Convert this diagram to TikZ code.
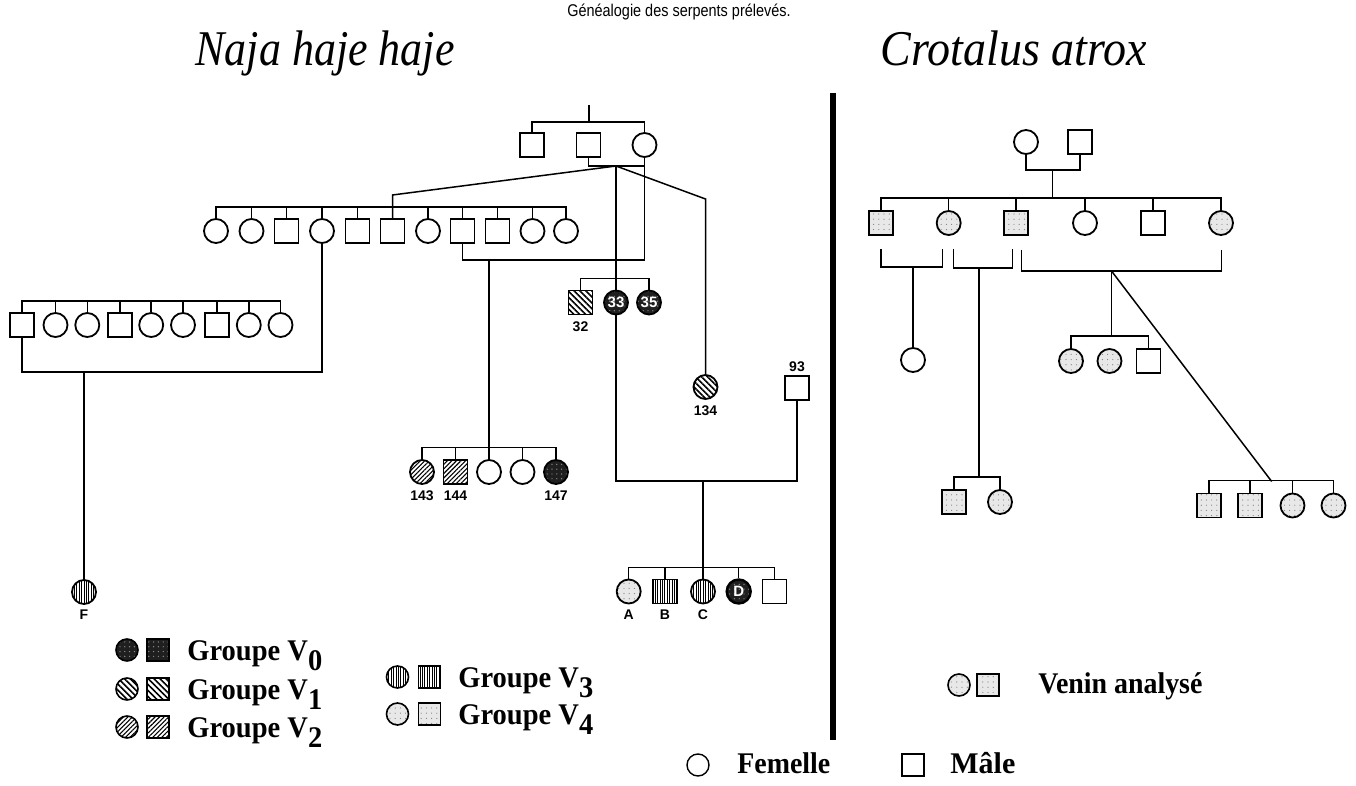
\documentclass[tikz,border=0pt]{standalone}
\usepackage{fontspec}
\setmainfont{Liberation Serif}
\setsansfont{Liberation Sans}
\usetikzlibrary{patterns.meta}
\tikzset{
  ln/.style={line width=0.75pt},
  sym/.style={draw, line width=0.9pt, inner sep=0pt, minimum size=12pt},
  fem/.style={sym, circle},
  mal/.style={sym, rectangle},
  lsym/.style={line width=0.8pt, minimum size=11pt},
  vz/.style={preaction={fill=black!88}, pattern={Dots[distance=2.4pt,radius=0.35pt]}, pattern color=black!45},
  vi/.style={pattern={Lines[angle=-45,distance=2.1pt,line width=0.8pt]}},
  vii/.style={pattern={Lines[angle=45,distance=1.6pt,line width=0.55pt]}},
  viii/.style={pattern={Lines[angle=90,distance=1.2pt,line width=0.45pt]}},
  viv/.style={preaction={fill=black!9}, pattern={Dots[distance=2.6pt,radius=0.3pt]}, pattern color=black!50},
  lab/.style={font=\sffamily\bfseries\fontsize{7}{7}\selectfont, inner sep=0pt},
  inlab/.style={text=white, font=\sffamily\bfseries\fontsize{7.5}{7.5}\selectfont},
  leg/.style={font=\bfseries\fontsize{15}{15}\selectfont, anchor=base west, inner sep=0pt},
  ttl/.style={font=\itshape\fontsize{25}{25}\selectfont, anchor=base, inner sep=0pt},
}
\newcommand{\grp}[1]{\scalebox{0.95}[1]{Groupe V\raisebox{-5pt}{#1}}}
\begin{document}
\begin{tikzpicture}[x=0.5pt,y=-0.5pt]
\useasboundingbox (0,0) rectangle (1356,786);
% titles
\node[font=\sffamily\fontsize{8.5}{9}\selectfont, inner sep=0pt] (sub) at (679,12) {\scalebox{0.85}[1]{Généalogie des serpents prélevés.}};
\node[ttl] (t1) at (325,66) {\scalebox{0.88}[1]{Naja haje haje}};
\node[ttl] (t2) at (1014,66) {\scalebox{0.92}[1]{Crotalus atrox}};
\draw[line width=3pt] (833,93) -- (833,740);

% ===== Naja haje haje =====
\node[mal] (g1) at (532,145) {};
\node[mal] (g2) at (588.5,145) {};
\node[fem] (g3) at (644.5,145) {};
\coordinate (gtop) at (589,105);
\draw[ln] (gtop) -- (589,122);
\draw[ln] (g1.north) |- (589,122) -| (g3.north);
\coordinate (m1) at (616,166);
\draw[ln] (g2.south) |- (m1) -| (g3.south);

% row 2
\foreach \x/\t [count=\i] in {216/fem,251.5/fem,286.5/mal,322/fem,357.5/mal,392.5/mal,428/fem,462.5/mal,497.5/mal,532.5/fem,566/fem}
  \node[\t] (b\i) at (\x,231) {};
\draw[ln] (b1.north) -- ++(0,-11) -| (b11.north);
\foreach \i in {2,...,10} \draw[ln] (b\i.north) -- ++(0,-11);
\draw[ln] (m1) -- (392.5,195) -- (b6.north);

% row 3
\foreach \x/\t [count=\i] in {21.8/mal,55.5/fem,87.3/fem,119.8/mal,151.2/fem,183/fem,217/mal,248.8/fem,280.5/fem}
  \node[\t] (u\i) at (\x,325) {};
\draw[ln] (u1.north) -- ++(0,-11) -| (u9.north);
\foreach \i in {2,...,8} \draw[ln] (u\i.north) -- ++(0,-11);
\coordinate (m3) at (84,372);
\draw[ln] (b4.south) |- (m3) -| (u1.south);
\node[fem,viii] (F) at (84,592) {};
\node[lab] (lF) at (84,615) {F};
\draw[ln] (m3) -- (F.north);

% 32 33 35
\node[mal,vi] (n32) at (580.5,302.5) {};
\node[fem,vz,inlab] (n33) at (616,302.5) {33};
\node[fem,vz,inlab] (n35) at (649,302.5) {35};
\draw[ln] (n32.north) -- ++(0,-11) -| (n35.north);
\draw[ln] (m1) -- (n33.north);
\node[lab] (l32) at (580.5,327) {32};

% grandmother x b8
\coordinate (m2) at (489,260);
\draw[ln] (g3.south) |- (m2) -| (b8.south);
\node[fem,vii] (k1) at (422,472) {};
\node[mal,vii] (k2) at (455.5,472) {};
\node[fem] (k3) at (489,472) {};
\node[fem] (k4) at (522.5,472) {};
\node[fem,vz] (k5) at (556,472) {};
\draw[ln] (k1.north) -- ++(0,-12) -| (k5.north);
\draw[ln] (k2.north) -- ++(0,-12);
\draw[ln] (k4.north) -- ++(0,-12);
\draw[ln] (m2) -- (k3.north);
\node[lab] (l143) at (422,496) {143};
\node[lab] (l144) at (455.5,496) {144};
\node[lab] (l147) at (556,496) {147};

% 134
\node[fem,vi] (n134) at (705.5,387) {};
\draw[ln] (m1) -- (705.5,199) -- (n134.north);
\node[lab] (l134) at (705.5,411) {134};

% 93
\node[mal] (s93) at (797,388) {};
\node[lab] (l93) at (797,367) {93};
\coordinate (m4) at (703,481);
\draw[ln] (n33.south) |- (m4) -| (s93.south);
\node[fem,viv] (d1) at (628.7,591.5) {};
\node[mal,viii] (d2) at (665,591.5) {};
\node[fem,viii] (d3) at (703,591.5) {};
\node[fem,vz,inlab,line width=1.2pt] (d4) at (738.7,591.5) {D};
\node[mal] (d5) at (774.5,591.5) {};
\draw[ln] (d1.north) -- ++(0,-11) -| (d5.north);
\draw[ln] (d2.north) -- ++(0,-11);
\draw[ln] (d4.north) -- ++(0,-11);
\draw[ln] (m4) -- (d3.north);
\node[lab] (lA) at (628.7,615) {A};
\node[lab] (lB) at (665,615) {B};
\node[lab] (lC) at (703,615) {C};

% Naja legend
\node[fem,lsym,vz] (L0a) at (127,650) {};
\node[mal,lsym,vz] (L0b) at (158,650) {};
\node[leg] (L0t) at (187,660) {\grp{0}};
\node[fem,lsym,vi] (L1a) at (127,689) {};
\node[mal,lsym,vi] (L1b) at (158,689) {};
\node[leg] (L1t) at (187,699) {\grp{1}};
\node[fem,lsym,vii] (L2a) at (127,727) {};
\node[mal,lsym,vii] (L2b) at (158,727) {};
\node[leg] (L2t) at (187,737) {\grp{2}};
\node[fem,lsym,viii] (L3a) at (397.5,677) {};
\node[mal,lsym,viii] (L3b) at (429.5,677) {};
\node[leg] (L3t) at (458,687) {\grp{3}};
\node[fem,lsym,viv] (L4a) at (397.5,714) {};
\node[mal,lsym,viv] (L4b) at (429.5,714) {};
\node[leg] (L4t) at (458,724) {\grp{4}};

% ===== Crotalus atrox =====
\node[fem] (p1) at (1026,142) {};
\node[mal] (p2) at (1080,142) {};
\coordinate (m5) at (1052.7,170);
\draw[ln] (p1.south) |- (m5) -| (p2.south);
\foreach \x/\t/\f [count=\i] in {880.8/mal/viv,948.7/fem/viv,1016/mal/viv,1085/fem/,1153/mal/,1221/fem/viv}
  \node[\t,\f] (q\i) at (\x,223) {};
\draw[ln] (q1.north) -- ++(0,-12) -| (q6.north);
\foreach \i in {2,...,5} \draw[ln] (q\i.north) -- ++(0,-12);
\draw[ln] (m5) -- (1052.7,199);

% brackets under row
\coordinate (ba1) at (880.8,249);
\coordinate (ba2) at (942.7,249);
\coordinate (bam) at (913,267);
\draw[ln] (ba1) |- (bam) -| (ba2);
\coordinate (bb1) at (953.3,249);
\coordinate (bb2) at (1012.7,249);
\coordinate (bbm) at (979,268);
\draw[ln] (bb1) |- (bbm) -| (bb2);
\coordinate (bc1) at (1021.7,250);
\coordinate (bc2) at (1221.5,250);
\coordinate (bcm) at (1111.5,271);
\draw[ln] (bc1) |- (bcm) -| (bc2);

\node[fem] (r1) at (913,360) {};
\draw[ln] (bam) -- (r1.north);

\node[mal,viv] (r21) at (954,502) {};
\node[fem,viv] (r22) at (1000,502) {};
\draw[ln] (r21.north) -- ++(0,-12) -| (r22.north);
\draw[ln] (bbm) -- (979,478);

\node[fem,viv] (r31) at (1071,361) {};
\node[fem,viv] (r32) at (1109.5,361) {};
\node[mal] (r33) at (1148.5,361) {};
\draw[ln] (r31.north) -- ++(0,-12) -| (r33.north);
\draw[ln] (bcm) -- (1111.5,337);

\node[mal,viv] (r41) at (1209,505.5) {};
\node[mal,viv] (r42) at (1250,505.5) {};
\node[fem,viv] (r43) at (1292.5,505.5) {};
\node[fem,viv] (r44) at (1333.5,505.5) {};
\draw[ln] (r41.north) -- ++(0,-12) -| (r44.north);
\draw[ln] (r42.north) -- ++(0,-12);
\draw[ln] (r43.north) -- ++(0,-12);
\draw[ln] (bcm) -- (1271.7,481.5);

% Venin legend
\node[fem,lsym,viv] (V1) at (959,685) {};
\node[mal,lsym,viv] (V2) at (988,685) {};
\node[leg] (Vt) at (1038,693) {\scalebox{0.93}[1]{Venin analysé}};

% sex legend
\node[fem,lsym,line width=0.7pt] (S1) at (698,765) {};
\node[leg] (S1t) at (737,773) {\scalebox{0.93}[1]{Femelle}};
\node[mal,lsym,line width=0.7pt] (S2) at (913,765) {};
\node[leg] (S2t) at (950,773) {Mâle};
\end{tikzpicture}
\end{document}
